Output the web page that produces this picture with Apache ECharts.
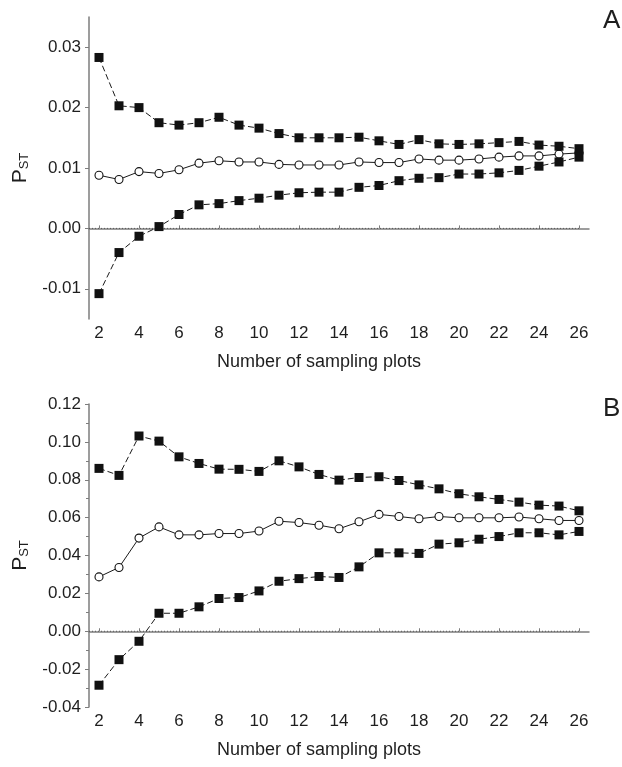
<!DOCTYPE html>
<html>
<head>
<meta charset="utf-8">
<script src="https://cdn.jsdelivr.net/npm/echarts@6/dist/echarts.min.js"></script>
<style>
  html, body { margin: 0; padding: 0; background: #ffffff; }
  #chart { width: 622px; height: 767px; }
</style>
</head>
<body>
<div id="chart"></div>
<script>
// Number of sampling plots (x values shared by both panels)
const samplingPlots = [2, 3, 4, 5, 6, 7, 8, 9, 10, 11, 12, 13, 14, 15, 16, 17, 18, 19, 20, 21, 22, 23, 24, 25, 26];
const xTicks = [2, 4, 6, 8, 10, 12, 14, 16, 18, 20, 22, 24, 26];

// Panel A: PST estimate with upper / lower limits
const upperA = [0.0283, 0.0203, 0.0200, 0.0175, 0.0171, 0.0175, 0.0184, 0.0171, 0.0166, 0.0157, 0.0150, 0.0150, 0.0150, 0.0151, 0.0145, 0.0139, 0.0147, 0.0140, 0.0139, 0.0140, 0.0142, 0.0144, 0.0138, 0.0136, 0.0132];
const meanA  = [0.0088, 0.0081, 0.0094, 0.0091, 0.0097, 0.0108, 0.0112, 0.0110, 0.0110, 0.0106, 0.0105, 0.0105, 0.0105, 0.0110, 0.0109, 0.0109, 0.0115, 0.0113, 0.0113, 0.0115, 0.0118, 0.0120, 0.0120, 0.0123, 0.0125];
const lowerA = [-0.0108, -0.0040, -0.0013, 0.0003, 0.0023, 0.0039, 0.0041, 0.0046, 0.0050, 0.0055, 0.0059, 0.0060, 0.0060, 0.0068, 0.0071, 0.0079, 0.0083, 0.0084, 0.0090, 0.0090, 0.0092, 0.0096, 0.0103, 0.0110, 0.0118];
const yTicksA = [-0.01, 0.00, 0.01, 0.02, 0.03];

// Panel B
const upperB = [0.0860, 0.0823, 0.1031, 0.1004, 0.0921, 0.0886, 0.0856, 0.0855, 0.0844, 0.0900, 0.0868, 0.0828, 0.0798, 0.0812, 0.0816, 0.0796, 0.0773, 0.0752, 0.0726, 0.0710, 0.0696, 0.0682, 0.0666, 0.0661, 0.0636];
const meanB  = [0.0287, 0.0337, 0.0492, 0.0551, 0.0509, 0.0509, 0.0516, 0.0516, 0.0529, 0.0581, 0.0574, 0.0560, 0.0541, 0.0578, 0.0617, 0.0606, 0.0594, 0.0606, 0.0599, 0.0599, 0.0599, 0.0603, 0.0594, 0.0585, 0.0585];
const lowerB = [-0.0285, -0.0150, -0.0053, 0.0095, 0.0095, 0.0129, 0.0173, 0.0178, 0.0213, 0.0264, 0.0278, 0.0289, 0.0284, 0.0340, 0.0414, 0.0414, 0.0411, 0.0460, 0.0467, 0.0486, 0.0500, 0.0520, 0.0520, 0.0509, 0.0527];

// Dotted zero reference line extent
const zeroLineX = [1.5, 26];

const FONT = '"Liberation Sans", Arial, Helvetica, sans-serif';
const TEXT = '#1e1e1e';
const AXIS = '#7d7d7d';
const INK = '#1a1a1a';

const pairs = (ys) => samplingPlots.map((x, i) => [x, ys[i]]);

function xAxisFor(gridIndex) {
  return {
    type: 'value', gridIndex, min: 1.5, max: 26.5,
    name: 'Number of sampling plots', nameLocation: 'middle', nameGap: 34,
    nameTextStyle: { fontFamily: FONT, fontSize: 18, color: TEXT, padding: [0, 40, 0, 0] },
    axisLine: { show: true, lineStyle: { color: AXIS, width: 1.5 } },
    axisTick: { show: true, inside: true, length: 3, customValues: xTicks, lineStyle: { color: AXIS } },
    axisLabel: { customValues: xTicks, margin: 6, fontFamily: FONT, fontSize: 17, color: TEXT },
    splitLine: { show: false }
  };
}

const yName = '{p|P}{s|ST}';
const yNameStyle = {
  fontFamily: FONT, color: TEXT,
  rich: {
    p: { fontFamily: FONT, fontSize: 21, color: TEXT, verticalAlign: 'bottom' },
    s: { fontFamily: FONT, fontSize: 13, color: TEXT, verticalAlign: 'bottom' }
  }
};

function limitSeries(xi, yi, data) {
  return {
    type: 'line', xAxisIndex: xi, yAxisIndex: yi, data: pairs(data),
    symbol: 'rect', symbolSize: 9, z: 4,
    itemStyle: { color: '#111111', borderColor: '#111111', borderWidth: 0 },
    lineStyle: { color: INK, width: 1, type: [6, 3] },
    emphasis: { disabled: true }, animation: false
  };
}
function meanSeries(xi, yi, data) {
  return {
    type: 'line', xAxisIndex: xi, yAxisIndex: yi, data: pairs(data),
    symbol: 'circle', symbolSize: 8, z: 3,
    itemStyle: { color: '#ffffff', borderColor: '#111111', borderWidth: 1.1 },
    lineStyle: { color: INK, width: 1 },
    emphasis: { disabled: true }, animation: false
  };
}
function zeroSeries(xi, yi) {
  return {
    type: 'line', xAxisIndex: xi, yAxisIndex: yi,
    data: zeroLineX.map(x => [x, 0]), symbol: 'none', z: 2,
    lineStyle: { color: '#555555', width: 1, type: [1, 2] },
    emphasis: { disabled: true }, animation: false
  };
}

const chart = echarts.init(document.getElementById('chart'), null, { renderer: 'canvas' });
chart.setOption({
  backgroundColor: '#ffffff',
  animation: false,
  grid: [
    { left: 89, top: 17, width: 500, height: 302 },
    { left: 89, top: 404, width: 500, height: 303 }
  ],
  xAxis: [xAxisFor(0), xAxisFor(1)],
  yAxis: [
    {
      type: 'value', gridIndex: 0, min: -0.015, max: 0.035,
      name: yName, nameLocation: 'middle', nameRotate: 90, nameGap: 58, nameTextStyle: yNameStyle,
      axisLine: { show: true, lineStyle: { color: AXIS, width: 1.5 } },
      axisTick: { show: true, length: 4, customValues: yTicksA, lineStyle: { color: AXIS } },
      axisLabel: { customValues: yTicksA, margin: 8, fontFamily: FONT, fontSize: 17, color: TEXT,
                   formatter: v => v.toFixed(2) },
      splitLine: { show: false }
    },
    {
      type: 'value', gridIndex: 1, min: -0.04, max: 0.12, interval: 0.02,
      name: yName, nameLocation: 'middle', nameRotate: 90, nameGap: 58, nameTextStyle: yNameStyle,
      axisLine: { show: true, lineStyle: { color: AXIS, width: 1.5 } },
      axisTick: { show: true, length: 4, lineStyle: { color: AXIS } },
      minorTick: { show: true, splitNumber: 2, length: 3, lineStyle: { color: AXIS } },
      axisLabel: { margin: 8, fontFamily: FONT, fontSize: 17, color: TEXT,
                   formatter: v => v.toFixed(2) },
      splitLine: { show: false }
    }
  ],
  graphic: [
    { type: 'text', left: 603, top: 8, style: { text: 'A', fontFamily: FONT, fontSize: 26, fill: TEXT } },
    { type: 'text', left: 603, top: 396, style: { text: 'B', fontFamily: FONT, fontSize: 26, fill: TEXT } }
  ],
  series: [
    zeroSeries(0, 0),
    meanSeries(0, 0, meanA),
    limitSeries(0, 0, upperA),
    limitSeries(0, 0, lowerA),
    zeroSeries(1, 1),
    meanSeries(1, 1, meanB),
    limitSeries(1, 1, upperB),
    limitSeries(1, 1, lowerB)
  ]
});
</script>
</body>
</html>
